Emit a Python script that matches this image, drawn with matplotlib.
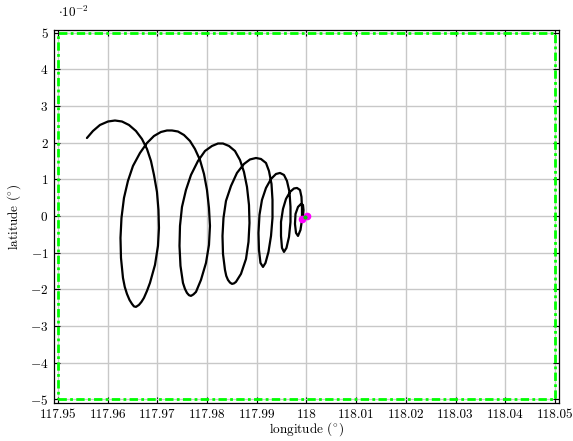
"""Decaying spiral track towards (118, 0) with the search box."""
import matplotlib
matplotlib.use('Agg')
import matplotlib.pyplot as plt
from matplotlib.ticker import FuncFormatter
import numpy as np

# ── Data ────────────────────────────────────────────────────────────
track_lon = [
    117.95583, 117.95704, 117.95845, 117.96006, 117.96147, 117.96288, 117.96429,
    117.96569, 117.96690, 117.96791, 117.96871, 117.96932, 117.96992, 117.97022,
    117.97032, 117.97012, 117.96952, 117.96851, 117.96791, 117.96730, 117.96680,
    117.96630, 117.96569, 117.96529, 117.96489, 117.96439, 117.96388, 117.96344,
    117.96308, 117.96268, 117.96258, 117.96278, 117.96328,
    117.96408, 117.96509, 117.96650, 117.96791, 117.96932, 117.97072, 117.97193,
    117.97294, 117.97414, 117.97535, 117.97656, 117.97756, 117.97857, 117.97938,
    117.97998, 117.98038, 117.98058, 117.98038, 117.97978, 117.97877, 117.97777,
    117.97726, 117.97676, 117.97636, 117.97595, 117.97555, 117.97515, 117.97465,
    117.97445, 117.97455, 117.97495,
    117.97575, 117.97676, 117.97817, 117.97958, 117.98098, 117.98219, 117.98320,
    117.98441, 117.98561, 117.98662, 117.98742, 117.98803, 117.98843, 117.98853,
    117.98833, 117.98783, 117.98682, 117.98581, 117.98541, 117.98501, 117.98461,
    117.98420, 117.98386, 117.98360,
    117.98320, 117.98310, 117.98330, 117.98380, 117.98481, 117.98601, 117.98742,
    117.98863, 117.98984, 117.99084, 117.99185, 117.99245, 117.99296, 117.99316,
    117.99316, 117.99286, 117.99235, 117.99175, 117.99125, 117.99074, 117.99044,
    117.99034, 117.99054, 117.99104, 117.99185, 117.99286, 117.99386, 117.99467,
    117.99547, 117.99607, 117.99658, 117.99678, 117.99678, 117.99648, 117.99597,
    117.99547, 117.99507, 117.99487, 117.99487, 117.99527, 117.99587, 117.99668,
    117.99748, 117.99809, 117.99869, 117.99899, 117.99909, 117.99909, 117.99879,
    117.99829, 117.99789, 117.99768, 117.99779, 117.99829, 117.99889, 117.99929,
    117.99940, 117.99929,
]
track_lat = [
    0.02125, 0.02316, 0.02480, 0.02575, 0.02602, 0.02575, 0.02480,
    0.02316, 0.02098, 0.01826, 0.01499, 0.01117, 0.00654, 0.00163,
    -0.00327, -0.00817, -0.01335, -0.01826, -0.02044, -0.02234, -0.02343,
    -0.02425, -0.02480, -0.02466, -0.02398, -0.02289, -0.02125, -0.01935,
    -0.01689, -0.01144, -0.00599, -0.00054, 0.00490,
    0.00954, 0.01362, 0.01717, 0.01989, 0.02180, 0.02289, 0.02330,
    0.02330, 0.02302, 0.02207, 0.02044, 0.01826, 0.01526, 0.01144,
    0.00708, 0.00218, -0.00272, -0.00790, -0.01281, -0.01744, -0.02071,
    -0.02139, -0.02180, -0.02161, -0.02098, -0.01989, -0.01826, -0.01362,
    -0.00817, -0.00272, 0.00245,
    0.00708, 0.01117, 0.01499, 0.01771, 0.01907, 0.01975, 0.01975,
    0.01907, 0.01771, 0.01526, 0.01199, 0.00790, 0.00300, -0.00191,
    -0.00708, -0.01172, -0.01580, -0.01798, -0.01839, -0.01853, -0.01817,
    -0.01744, -0.01635, -0.01471,
    -0.01035, -0.00545, -0.00054, 0.00409, 0.00817, 0.01172, 0.01417,
    0.01540, 0.01580, 0.01553, 0.01444, 0.01226, 0.00872, 0.00436,
    -0.00054, -0.00545, -0.00981, -0.01281, -0.01390, -0.01281, -0.00926,
    -0.00463, 0.00027, 0.00436, 0.00763, 0.01008, 0.01144, 0.01172,
    0.01117, 0.00954, 0.00654, 0.00245, -0.00163, -0.00572, -0.00872,
    -0.00981, -0.00872, -0.00545, -0.00163, 0.00191, 0.00463, 0.00654,
    0.00749, 0.00763, 0.00708, 0.00518, 0.00218, -0.00109, -0.00381,
    -0.00545, -0.00463, -0.00218, 0.00054, 0.00245, 0.00327, 0.00300,
    0.00163, -0.00027,
]

# end point -> target
target_lon = [117.99909, 118.00010]
target_lat = [-0.00082, 0.00000]
mid_lon = [117.99960]
mid_lat = [-0.00035]

# search box
box_lon = [117.95, 118.05, 118.05, 117.95, 117.95]
box_lat = [-0.05, -0.05, 0.05, 0.05, -0.05]

x_ticks = [117.95, 117.96, 117.97, 117.98, 117.99, 118.0,
           118.01, 118.02, 118.03, 118.04, 118.05]
y_ticks = [-0.05, -0.04, -0.03, -0.02, -0.01, 0.0,
           0.01, 0.02, 0.03, 0.04, 0.05]

# ── Style (pgfplots look) ───────────────────────────────────────────
plt.rcParams['mathtext.fontset'] = 'cm'
plt.rcParams['font.family'] = 'serif'
plt.rcParams['font.serif'] = ['cmr10', 'DejaVu Serif']
plt.rcParams['axes.formatter.use_mathtext'] = True

fig = plt.figure(figsize=(5.73, 4.41), dpi=100, facecolor='white')
ax = fig.add_axes([0.0942, 0.0862, 0.8814, 0.8458])

ax.plot(box_lon, box_lat, color='#00FF00', lw=2.0,
        linestyle=(0, (3, 1.2, 1, 1.2)), zorder=3, clip_on=False)
ax.plot(track_lon, track_lat, color='black', lw=1.6,
        solid_joinstyle='round', solid_capstyle='round', zorder=4)
ax.plot(target_lon, target_lat, color='#FF00FF', lw=1.5, marker='o',
        ms=4.5, zorder=5)
ax.plot(mid_lon, mid_lat, 'o', color='#00CC00', ms=2, zorder=6)

ax.set_xlim(117.9492, 118.0508)
ax.set_ylim(-0.0510, 0.0507)
ax.set_xticks(x_ticks)
ax.set_yticks(y_ticks)
ax.xaxis.set_major_formatter(FuncFormatter(
    lambda v, p: ('%.2f' % v).rstrip('0').rstrip('.')))
ax.yaxis.set_major_formatter(FuncFormatter(
    lambda v, p: r'$%d$' % round(v * 100)))

ax.grid(True, color='#C8C8C8', lw=1.0, zorder=0)
ax.set_axisbelow(True)
ax.tick_params(direction='in', top=True, right=True, length=4,
               width=0.8, labelsize=9.5, colors='black', pad=4)
for spine in ax.spines.values():
    spine.set_edgecolor('black')
    spine.set_linewidth(0.9)

ax.set_xlabel(r'longitude ($^{\circ}$)', fontsize=9.5, labelpad=0)
ax.set_ylabel(r'latitude ($^{\circ}$)', fontsize=9.5, labelpad=5)
ax.text(0.008, 1.027, r'$\cdot 10^{-2}$', transform=ax.transAxes,
        fontsize=9.5, ha='left', va='bottom')

fig.savefig('out.png', dpi=100, facecolor=fig.get_facecolor())
plt.close(fig)
